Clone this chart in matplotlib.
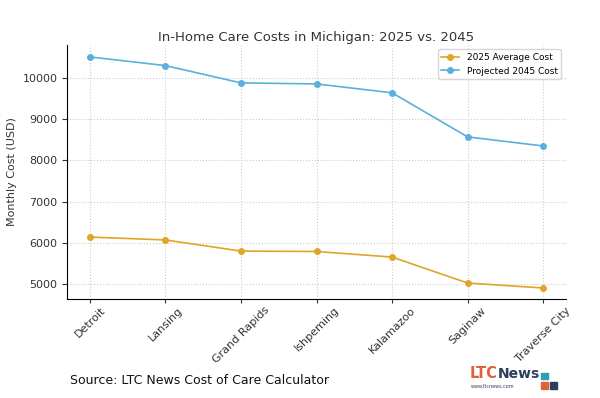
import matplotlib.pyplot as plt
from matplotlib.patches import Rectangle

cities = ["Detroit", "Lansing", "Grand Rapids", "Ishpeming", "Kalamazoo", "Saginaw", "Traverse City"]
cost_2025 = [6140, 6070, 5800, 5790, 5655, 5025, 4905]
cost_2045 = [10510, 10300, 9880, 9855, 9640, 8570, 8350]

fig = plt.figure(figsize=(6, 3.98), dpi=100)
ax = fig.add_axes([0.112, 0.249, 0.831, 0.638])

x = range(len(cities))
ax.plot(x, cost_2025, marker='o', markersize=4, linewidth=1.2, color='#e0a526', label='2025 Average Cost')
ax.plot(x, cost_2045, marker='o', markersize=4, linewidth=1.2, color='#5aafdc', label='Projected 2045 Cost')

ax.set_xticks(list(x))
ax.set_xticklabels(cities, rotation=45, fontsize=8, color='#333333')
ax.tick_params(axis='y', labelsize=8, colors='#333333')
ax.tick_params(axis='x', colors='#333333', pad=1.5, length=3)
ax.set_yticks([5000, 6000, 7000, 8000, 9000, 10000])
ax.set_ylim(4640, 10800)
ax.set_ylabel("Monthly Cost (USD)", fontsize=8, color='#333333')
ax.set_title("In-Home Care Costs in Michigan: 2025 vs. 2045", fontsize=9.5, color='#333333', pad=3)
ax.grid(True, linestyle=':', color='#cccccc', linewidth=0.8)
ax.spines['top'].set_visible(False)
ax.spines['right'].set_visible(False)
ax.legend(loc='upper right', fontsize=6.5, frameon=True)

# source line and logo
fig.text(0.117, 0.035, "Source: LTC News Cost of Care Calculator", fontsize=9, color='#111111')
fig.text(0.783, 0.05, "LTC", fontsize=10.5, fontweight='bold', color='#e0623a')
fig.text(0.83, 0.05, "News", fontsize=10, fontweight='bold', color='#2c3e5c')
fig.text(0.784, 0.024, "www.ltcnews.com", fontsize=3.5, color='#2c3e5c')
fig.patches.append(Rectangle((0.902, 0.047), 0.011, 0.017, transform=fig.transFigure, color='#2a9fb8'))
fig.patches.append(Rectangle((0.902, 0.023), 0.011, 0.017, transform=fig.transFigure, color='#e0623a'))
fig.patches.append(Rectangle((0.917, 0.023), 0.011, 0.017, transform=fig.transFigure, color='#2c3e5c'))

fig.savefig("out.png", dpi=100)
